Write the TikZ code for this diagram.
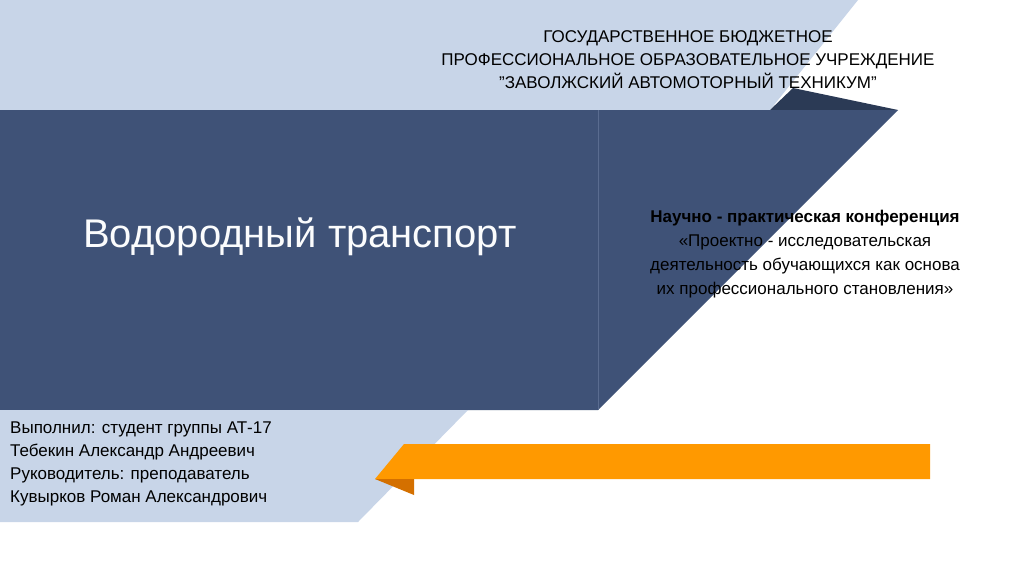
\documentclass[tikz,border=0pt]{standalone}
\usepackage{fontspec}
\setmainfont{Liberation Sans}
\definecolor{lblue}{HTML}{C8D5E8}
\definecolor{dblue}{HTML}{3F5277}
\definecolor{ddblue}{HTML}{2B3A55}
\definecolor{divline}{HTML}{5A6C90}
\definecolor{orng}{HTML}{FF9900}
\definecolor{orngd}{HTML}{D47000}
\begin{document}
\begin{tikzpicture}[x=1pt,y=-1pt,
  txt/.style={inner sep=0pt,font=\fontsize{17}{23}\selectfont,align=center}]
\useasboundingbox (0,0) rectangle (1024,576);
\fill[white] (0,0) rectangle (1024,576);
\fill[lblue] (0,0) -- (858,0) -- (770,110) -- (0,110) -- cycle;
\fill[ddblue] (770,110) -- (793,88) -- (898,110) -- cycle;
\fill[dblue] (0,110) -- (898,110) -- (598,410) -- (0,410) -- cycle;
\draw[divline,line width=0.8pt] (598,110) -- (598,410);
\fill[lblue] (0,410) -- (468,410) -- (358,522) -- (0,522) -- cycle;
\fill[orng] (404,444) -- (930,444) -- (930,479) -- (375,479) -- cycle;
\fill[orngd] (375,479) -- (414,479) -- (414,495) -- cycle;
\node[txt] (hdr) at (688,60) {ГОСУДАРСТВЕННОЕ БЮДЖЕТНОЕ\\ПРОФЕССИОНАЛЬНОЕ ОБРАЗОВАТЕЛЬНОЕ УЧРЕЖДЕНИЕ\\"ЗАВОЛЖСКИЙ АВТОМОТОРНЫЙ ТЕХНИКУМ"};
\node[inner sep=0pt,text=white!92!lblue,font=\fontsize{40}{48}\selectfont] (title) at (300,237) {Водородный транспорт};
\node[txt,font=\fontsize{17}{24}\selectfont] (conf) at (805,254) {\textbf{Научно - практическая конференция}\\«Проектно - исследовательская\\деятельность обучающихся как основа\\их профессионального становления»};
\node[txt,align=left,anchor=west,font=\fontsize{17}{23}\selectfont] (auth) at (10,464) {Выполнил: студент группы АТ-17\\Тебекин Александр Андреевич\\Руководитель: преподаватель\\Кувырков Роман Александрович};
\end{tikzpicture}
\end{document}
